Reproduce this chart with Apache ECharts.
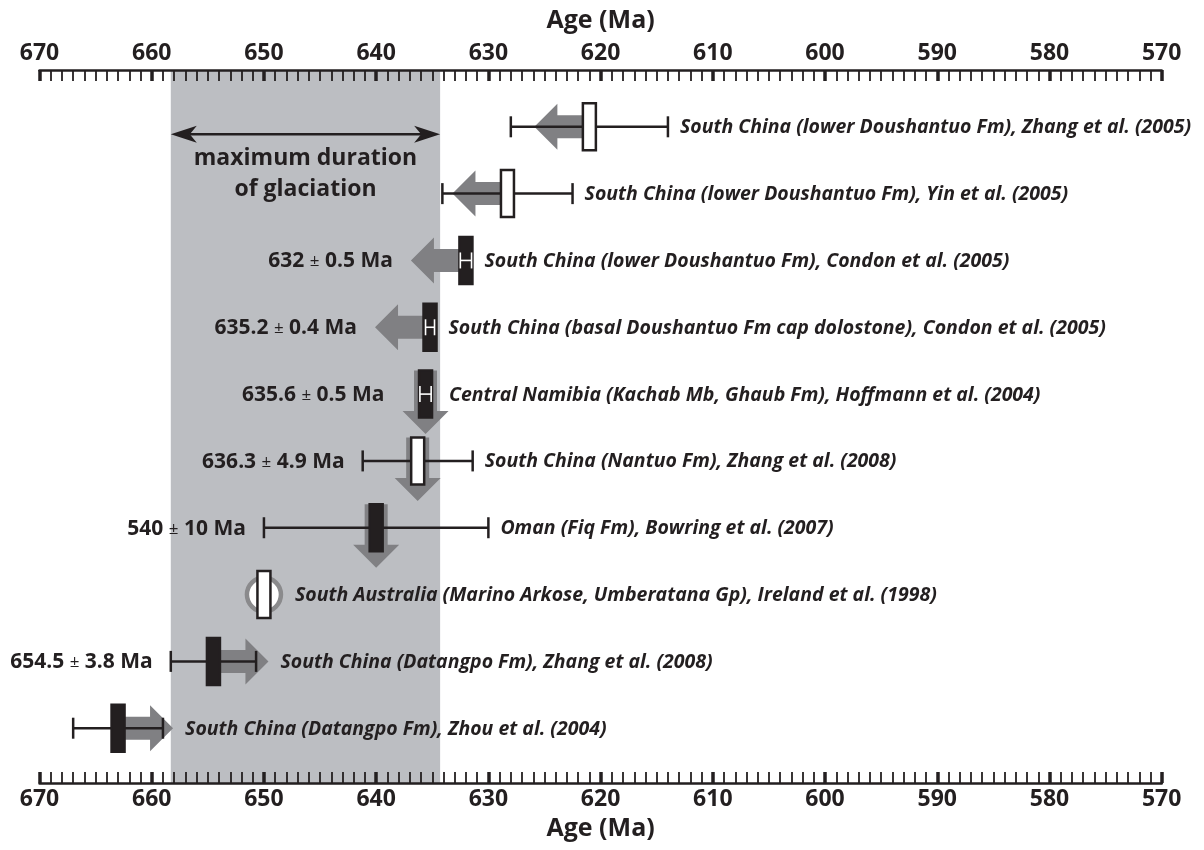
<!DOCTYPE html>
<html>
<head>
<meta charset="utf-8">
<script src="https://cdn.jsdelivr.net/npm/echarts@6/dist/echarts.min.js"></script>
<style>
  html, body { margin: 0; padding: 0; background: #ffffff; }
  #chart { width: 1204px; height: 850px; }
</style>
</head>
<body>
<div id="chart"></div>
<script>
// Radiometric age constraints bracketing the Marinoan glaciation (ages in Ma)
const sources = [
  'South China (lower Doushantuo Fm), Zhang et al. (2005)',
  'South China (lower Doushantuo Fm), Yin et al. (2005)',
  'South China (lower Doushantuo Fm), Condon et al. (2005)',
  'South China (basal Doushantuo Fm cap dolostone), Condon et al. (2005)',
  'Central Namibia (Kachab Mb, Ghaub Fm), Hoffmann et al. (2004)',
  'South China (Nantuo Fm), Zhang et al. (2008)',
  'Oman (Fiq Fm), Bowring et al. (2007)',
  'South Australia (Marino Arkose, Umberatana Gp), Ireland et al. (1998)',
  'South China (Datangpo Fm), Zhang et al. (2008)',
  'South China (Datangpo Fm), Zhou et al. (2004)'
];
const ages = [621, 628.3, 632, 635.2, 635.6, 636.3, 640, 650, 654.5, 663];
const errors = [7, 5.8, 0.5, 0.4, 0.5, 4.9, 10, null, 3.8, 4];
// filled box = date from the unit itself, open box = indirect constraint
const boxFills = ['white', 'white', 'black', 'black', 'black', 'white', 'black', 'white', 'black', 'black'];
// which way the constraint points (younger = left, older = right, within = down)
const arrowDirs = ['left', 'left', 'left', 'left', 'down', 'down', 'down', null, 'right', 'right'];
const ageLabels = [null, null, '632 ± 0.5 Ma', '635.2 ± 0.4 Ma', '635.6 ± 0.5 Ma', '636.3 ± 4.9 Ma', '540 ± 10 Ma', null, '654.5 ± 3.8 Ma', null];
const ringed = [false, false, false, false, false, false, false, true, false, false];
const glaciation = [658.3, 634.3];
const axisRange = [570, 670];
const axisStep = 10;

const INK = '#231f20';
const ARROW = '#808083';
const BAND = '#bcbec2';
const FONT = '"Open Sans", "Noto Sans", sans-serif';

const chart = echarts.init(document.getElementById('chart'), null, { renderer: 'canvas' });

function ageAxis(pos) {
  return {
    type: 'value',
    position: pos,
    min: axisRange[0],
    max: axisRange[1],
    interval: axisStep,
    inverse: true,
    z: 10,
    name: 'Age (Ma)',
    nameLocation: 'middle',
    nameGap: pos === 'top' ? 37 : 32,
    nameTextStyle: { fontFamily: FONT, fontWeight: 'bold', fontSize: 25, color: INK },
    axisLine: { show: true, onZero: false, lineStyle: { color: INK, width: 2.5 } },
    axisTick: { show: true, inside: true, length: 11, lineStyle: { color: INK, width: 3.5 } },
    minorTick: { show: true, splitNumber: 10, length: 11, lineStyle: { color: INK, width: 1.8 } },
    axisLabel: { margin: 5, fontFamily: FONT, fontWeight: 'bold', fontSize: 23, color: INK },
    splitLine: { show: false },
    minorSplitLine: { show: false }
  };
}

const BOX_W = 13, BOX_H = 47;
const CAP = 21;
const SHAFT = 23, HEAD_W = 46, HEAD_L = 23, ARROW_LEN = 55, DOWN_TIP = 40;

function arrowPolygon(dir, cx, cy, top) {
  const s = SHAFT / 2, h = HEAD_W / 2;
  if (dir === 'left' || dir === 'right') {
    const k = dir === 'left' ? -1 : 1;
    const tip = cx + k * ARROW_LEN;
    const base = tip - k * HEAD_L;
    return [[cx, cy - s], [base, cy - s], [base, cy - h], [tip, cy], [base, cy + h], [base, cy + s], [cx, cy + s]];
  }
  const tip = cy + DOWN_TIP;
  const base = tip - HEAD_L;
  return [[cx - s, top], [cx - s, base], [cx - h, base], [cx, tip], [cx + h, base], [cx + s, base], [cx + s, top]];
}

function renderRow(params, api) {
  const i = params.dataIndex;
  const age = api.value(0);
  const p = api.coord([age, api.value(1)]);
  const cx = p[0], cy = p[1];
  const top = cy - BOX_H / 2;
  const children = [];
  let left = cx - BOX_W / 2, right = cx + BOX_W / 2;

  const dir = arrowDirs[i];
  if (dir) {
    children.push({ type: 'polygon', shape: { points: arrowPolygon(dir, cx, cy, top) }, style: { fill: ARROW } });
    if (dir === 'left') left = Math.min(left, cx - ARROW_LEN);
    if (dir === 'right') right = Math.max(right, cx + ARROW_LEN);
    if (dir === 'down') { left = Math.min(left, cx - HEAD_W / 2); right = Math.max(right, cx + SHAFT / 2); }
  }

  const err = errors[i];
  let xl = null, xr = null;
  if (err != null) {
    const a = api.coord([age + err, api.value(1)])[0];
    const b = api.coord([age - err, api.value(1)])[0];
    xl = Math.min(a, b); xr = Math.max(a, b);
    const barStyle = { stroke: INK, lineWidth: 2.5 };
    children.push({ type: 'line', shape: { x1: xl, y1: cy, x2: xr, y2: cy }, style: barStyle });
    children.push({ type: 'line', shape: { x1: xl, y1: cy - CAP / 2, x2: xl, y2: cy + CAP / 2 }, style: barStyle });
    children.push({ type: 'line', shape: { x1: xr, y1: cy - CAP / 2, x2: xr, y2: cy + CAP / 2 }, style: barStyle });
    left = Math.min(left, xl); right = Math.max(right, xr);
  }

  if (ringed[i]) {
    children.push({ type: 'circle', shape: { cx: cx, cy: cy, r: 17 }, style: { fill: '#ffffff', stroke: '#8a8a8c', lineWidth: 4.5 } });
    left = Math.min(left, cx - 19); right = Math.max(right, cx + 19);
  }

  children.push({
    type: 'rect',
    shape: { x: cx - BOX_W / 2, y: top, width: BOX_W, height: BOX_H },
    style: { fill: boxFills[i] === 'black' ? INK : '#ffffff', stroke: INK, lineWidth: 2.5 }
  });

  // a short error bar that fits inside a filled box is drawn in white on top of it
  if (err != null && boxFills[i] === 'black' && xl > cx - BOX_W / 2 && xr < cx + BOX_W / 2) {
    const w = { stroke: '#ffffff', lineWidth: 1.6 };
    children.push({ type: 'line', shape: { x1: xl, y1: cy, x2: xr, y2: cy }, style: w });
    children.push({ type: 'line', shape: { x1: xl, y1: cy - 8, x2: xl, y2: cy + 8 }, style: w });
    children.push({ type: 'line', shape: { x1: xr, y1: cy - 8, x2: xr, y2: cy + 8 }, style: w });
  }

  children.push({
    type: 'text',
    style: {
      text: sources[i], x: right + 12, y: cy + 1,
      align: 'left', verticalAlign: 'middle',
      fontFamily: FONT, fontWeight: 'bold', fontStyle: 'italic', fontSize: 19.5, fill: INK
    }
  });

  if (ageLabels[i]) {
    const parts = ageLabels[i].split('±');
    children.push({
      type: 'text',
      style: {
        text: '{n|' + parts[0] + '}{pm|±}{n|' + parts[1] + '}',
        x: left - 18, y: cy + 1,
        align: 'right', verticalAlign: 'middle',
        rich: {
          n: { fontFamily: FONT, fontWeight: 'bold', fontSize: 21, fill: INK },
          pm: { fontFamily: FONT, fontWeight: 'normal', fontSize: 17, fill: INK }
        }
      }
    });
  }
  return { type: 'group', children: children };
}

function renderSpan(params, api) {
  const a = api.coord([api.value(0), 0.11]);
  const b = api.coord([api.value(1), 0.11]);
  const x0 = Math.min(a[0], b[0]), x1 = Math.max(a[0], b[0]);
  const y = a[1];
  const hl = 26, hw = 8.5, notch = 7;
  return {
    type: 'group',
    children: [
      { type: 'line', shape: { x1: x0 + hl - notch, y1: y, x2: x1 - hl + notch, y2: y }, style: { stroke: INK, lineWidth: 2.5 } },
      { type: 'polygon', shape: { points: [[x0, y], [x0 + hl, y - hw], [x0 + hl - notch, y], [x0 + hl, y + hw]] }, style: { fill: INK } },
      { type: 'polygon', shape: { points: [[x1, y], [x1 - hl, y - hw], [x1 - hl + notch, y], [x1 - hl, y + hw]] }, style: { fill: INK } },
      {
        type: 'text',
        style: {
          text: 'maximum duration\nof glaciation', x: (x0 + x1) / 2, y: y + 9,
          align: 'center', verticalAlign: 'top', lineHeight: 31,
          fontFamily: FONT, fontWeight: 'bold', fontSize: 23, fill: INK
        }
      }
    ]
  };
}

chart.setOption({
  animation: false,
  backgroundColor: '#ffffff',
  grid: { left: 39.5, right: 42.3, top: 70, bottom: 67, outerBoundsMode: 'none' },
  xAxis: [ageAxis('top'), ageAxis('bottom')],
  yAxis: { type: 'value', min: -0.85, max: 9.82, inverse: true, show: false },
  series: [
    {
      type: 'custom',
      name: 'age constraints',
      coordinateSystem: 'cartesian2d',
      xAxisIndex: 0,
      z: 3,
      renderItem: renderRow,
      encode: { x: 0, y: 1 },
      data: ages.map((a, i) => [a, i]),
      markArea: {
        silent: true,
        z: 1,
        itemStyle: { color: BAND },
        data: [[{ xAxis: glaciation[0] }, { xAxis: glaciation[1] }]]
      }
    },
    {
      type: 'custom',
      name: 'glaciation span',
      coordinateSystem: 'cartesian2d',
      xAxisIndex: 0,
      z: 4,
      renderItem: renderSpan,
      encode: { x: [0, 1], y: 2 },
      data: [[glaciation[0], glaciation[1], 0.11]]
    }
  ]
});
</script>
</body>
</html>
